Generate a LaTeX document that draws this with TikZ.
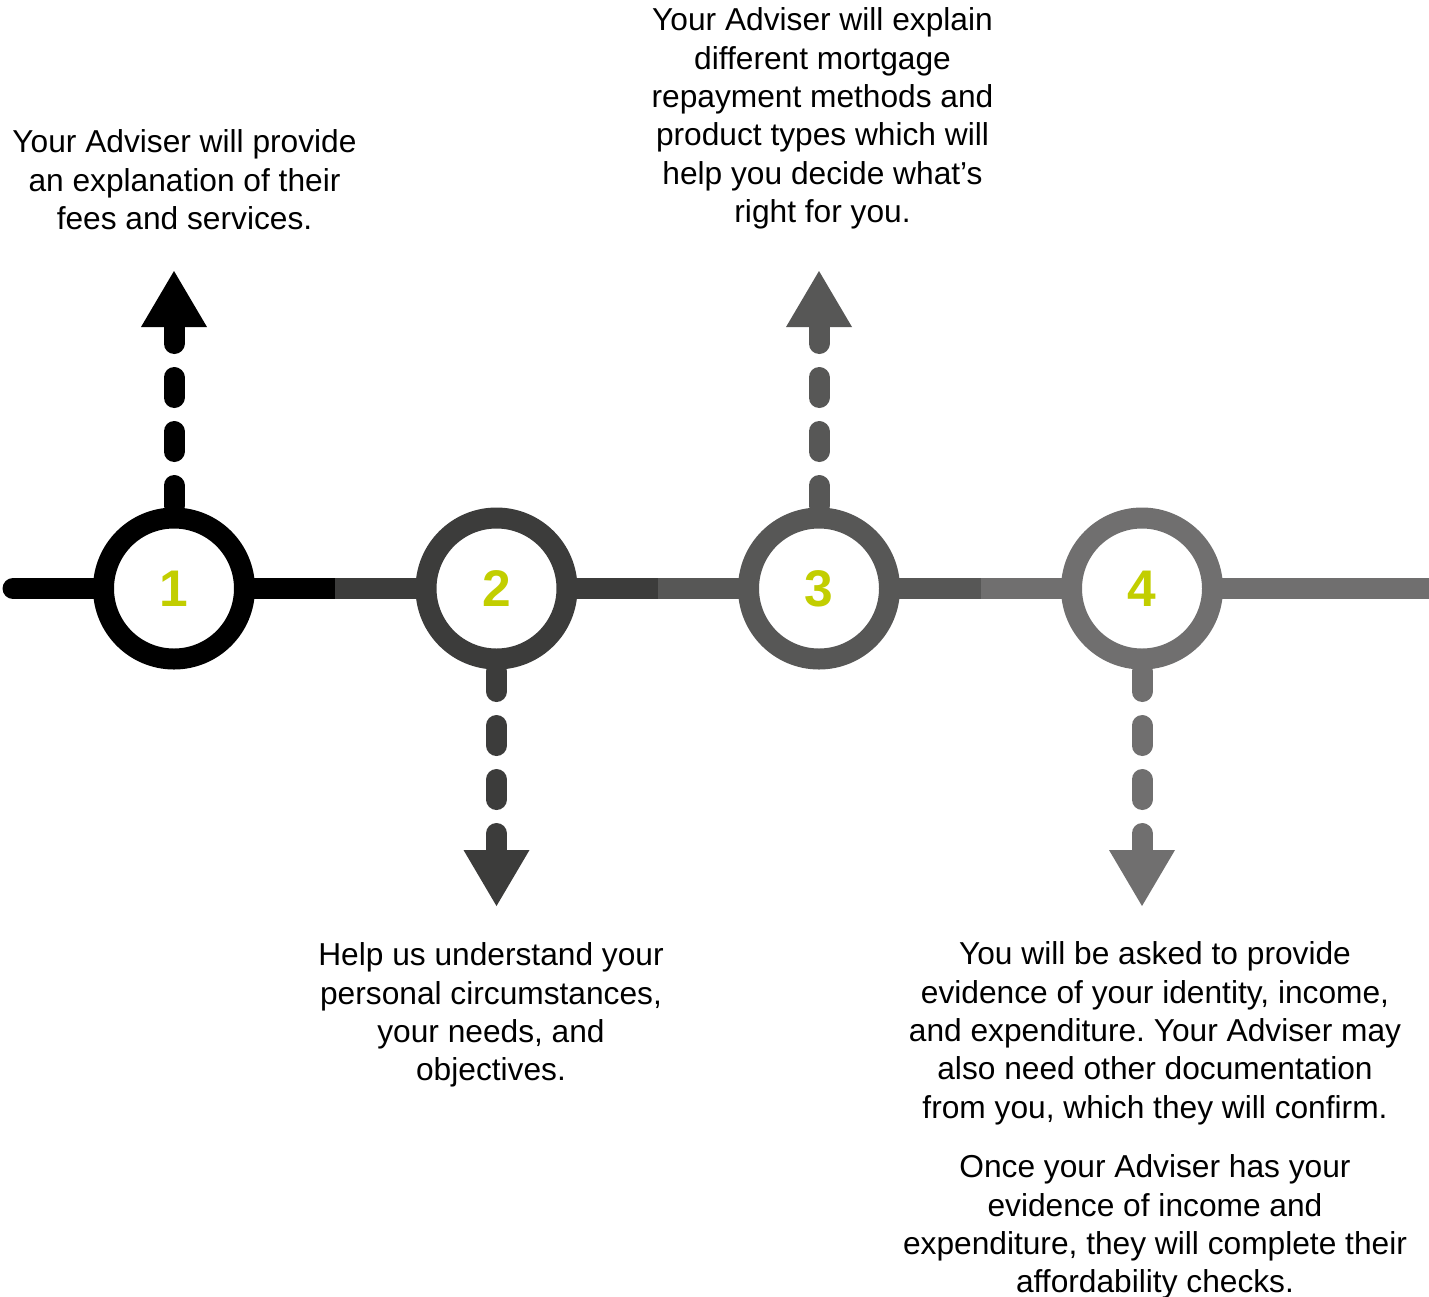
\documentclass[tikz,border=0pt]{standalone}
\usepackage{fontspec}
\setmainfont{Liberation Sans}
\usetikzlibrary{arrows.meta,backgrounds,calc}
\definecolor{sA}{HTML}{000000}
\definecolor{sB}{HTML}{3C3C3B}
\definecolor{sC}{HTML}{575756}
\definecolor{sD}{HTML}{706F6F}
\definecolor{numc}{HTML}{C2CE00}
\frenchspacing
\tikzset{
  stepcirc/.style={circle, draw=#1, fill=white, line width=21pt, minimum size=141pt,
    inner sep=0pt, text=numc, font=\fontsize{51.5}{60}\selectfont\bfseries},
  timeline/.style={draw=#1, line width=21pt},
  dashlink/.style={draw=#1, line width=21pt, line cap=round,
    dash pattern=on 20pt off 34pt, dash phase=25pt,
    -{Triangle[width=66pt,length=56pt,line width=0pt]}},
  desc/.style={align=center, anchor=north, inner sep=0pt,
    font=\fontsize{31.7}{38.4}\selectfont, text=black},
}
\begin{document}
\begin{tikzpicture}[x=1pt,y=-1pt]
\useasboundingbox (0,0) rectangle (1429,1296);
% step circles
\node[stepcirc=sA] (c1) at (174,588.5) {1};
\node[stepcirc=sB] (c2) at (496.5,588.5) {2};
\node[stepcirc=sC] (c3) at (819,588.5) {3};
\node[stepcirc=sD] (c4) at (1142,588.5) {4};
% free ends
\coordinate (L) at (13,588.5);
\coordinate (R) at (1429,588.5);
\coordinate (m12) at ($(c1)!0.5!(c2)$);
\coordinate (m23) at ($(c2)!0.5!(c3)$);
\coordinate (m34) at ($(c3)!0.5!(c4)$);
\coordinate (t1) at (174,271);
\coordinate (t2) at (496.5,906);
\coordinate (t3) at (819,271);
\coordinate (t4) at (1142,906);
% connectors
\begin{scope}[on background layer]
  \draw[timeline=sA, line cap=round] (L) -- (m12);
  \draw[timeline=sB] (m12) -- (m23);
  \draw[timeline=sC] (m23) -- (m34);
  \draw[timeline=sD] (m34) -- (R);
  \draw[dashlink=sA] (c1.center) -- (t1);
  \draw[dashlink=sB] (c2.center) -- (t2);
  \draw[dashlink=sC] (c3.center) -- (t3);
  \draw[dashlink=sD] (c4.center) -- (t4);
\end{scope}
% descriptions
\node[desc] (d1) at (184.5,129.5) {Your Adviser will provide\\an explanation of their\\fees and services.};
\node[desc] (d3) at (822.5,7.5) {Your Adviser will explain\\different mortgage\\repayment methods and\\product types which will\\help you decide what’s\\right for you.};
\node[desc] (d2) at (491,942.5) {Help us understand your\\personal circumstances,\\your needs, and\\objectives.};
\node[desc] (d4) at (1155,941.5) {You will be asked to provide\\evidence of your identity, income,\\and expenditure. Your Adviser may\\also need other documentation\\from you, which they will confirm.};
\node[desc] (d5) at (1155,1154.5) {Once your Adviser has your\\evidence of income and\\expenditure, they will complete their\\affordability checks.};
\end{tikzpicture}
\end{document}
